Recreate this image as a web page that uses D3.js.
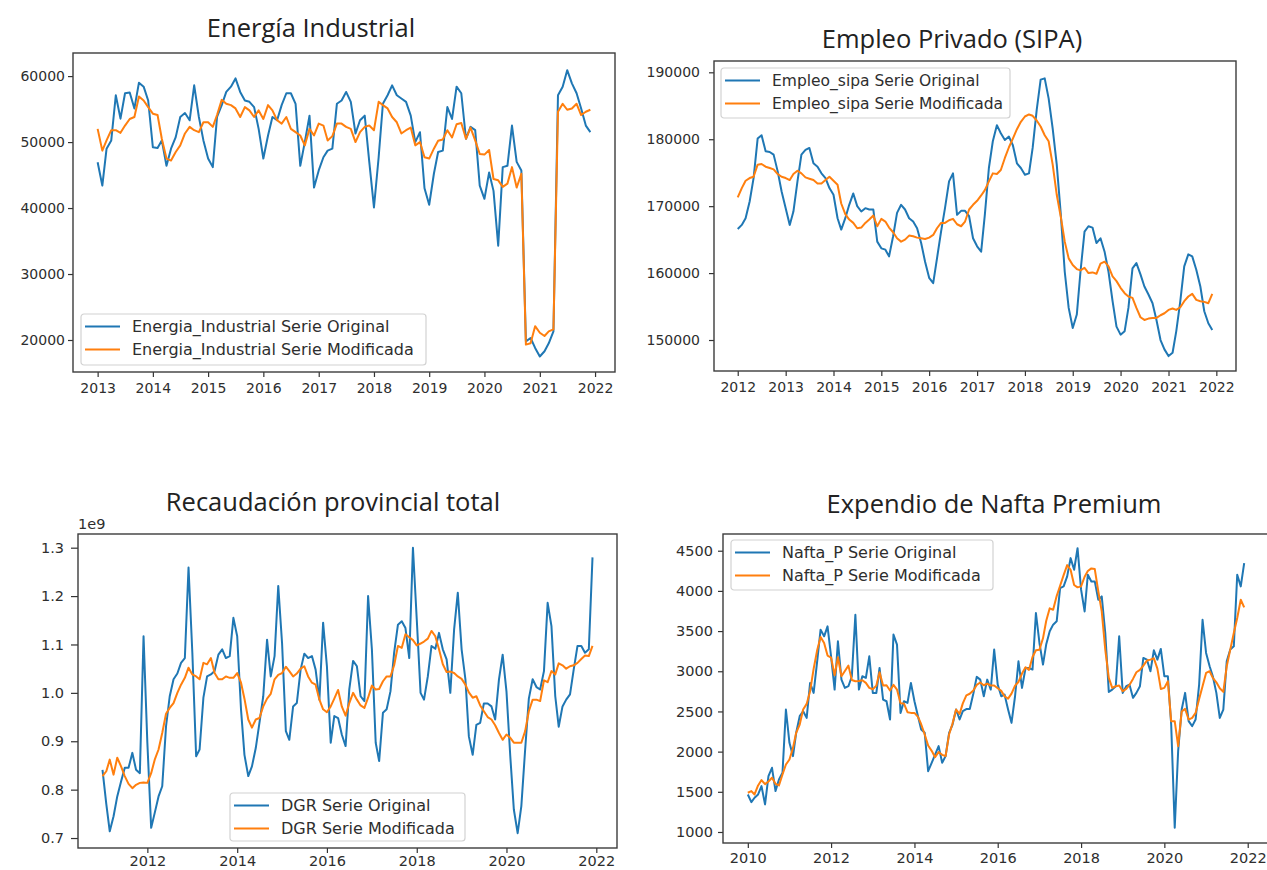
<!DOCTYPE html>
<html>
<head>
<meta charset="utf-8">
<script src="https://cdn.jsdelivr.net/npm/d3@7"></script>
<style>
  body{margin:0;background:#fff}
  svg{display:block}
</style>
</head>
<body>
<svg id="canvas" width="1267" height="870"></svg>
<script>

// ---- data (monthly) ----

// Energia Industrial, 2013-01 .. 2021-12
var energiaOriginal = [
  46950,43400,49000,50250,57100,53550,57400,57500,55100,59000,58400,56300,
  49200,49100,50250,46400,49000,50750,53800,54400,53300,58600,53800,50250,
  47500,46200,53800,55600,57600,58400,59650,57600,56300,56100,55300,52000,
  47500,51000,53800,53300,55600,57400,57400,55800,46400,50000,54000,43100,
  45700,47700,48700,49000,55800,56300,57600,56100,51300,53300,54000,47000,
  40100,47700,55800,57100,58600,57100,56600,56100,54000,50000,51500,43000,
  40500,45200,48500,48700,55300,53500,58400,57400,50500,52300,51800,43400,
  41400,45400,42600,34300,46200,46400,52500,47000,45700,19800,20300,18800,
  17500,18300,19500,21300,57100,58400,60900,58900,57400,55100,52500,51500
]
var energiaModificada = [
  52000,48700,50250,51800,51800,51400,52500,53500,53800,56900,56300,55300,
  54300,54100,50500,47500,47200,48500,49500,51300,52300,51800,51500,53000,
  53000,52300,54100,56400,55800,55600,55100,53800,55300,54800,53800,54800,
  53500,55600,54800,53300,52800,53800,52000,51500,51000,49500,52000,51000,
  52800,52500,50250,50900,52800,52800,52300,52000,50000,51500,52300,52500,
  51800,56100,55600,55100,53800,53000,51300,51800,52200,49500,50000,47700,
  47500,49000,50200,50400,51800,50700,52700,52900,50500,52200,50250,48200,
  48100,48800,44400,44200,43200,43700,46200,43100,45200,19300,19500,22100,
  21100,20600,21300,21600,54600,55800,54900,55100,55800,54100,54600,54900
]

// Empleo SIPA, 2012-01 .. 2021-12
var sipaOriginal = [
  166600,167200,168200,170700,174200,180100,180600,178200,178100,177700,175200,172200,
  169700,167200,169200,173700,177700,178400,178700,176400,175900,174900,174200,172700,
  171700,168200,166500,168200,170200,171900,170000,169200,169700,169500,169500,164700,
  163700,163500,162500,165500,169000,170200,169500,168200,167700,166700,164500,161700,
  159300,158500,162200,166200,169700,173700,174900,168700,169300,169300,168500,165200,
  164000,163200,168700,175700,179700,182100,180900,179900,180400,179100,176400,175700,
  174700,174900,178700,184400,188900,189100,186100,181600,176200,169000,160200,154800,
  151800,153800,160200,166200,167000,166800,164500,165200,163200,160200,155800,152000,
  150800,151300,154800,160700,161500,159800,158000,156800,155500,153000,150000,148600,
  147600,148100,151300,155800,161000,162800,162500,160500,158000,154300,152500,151500
]
var sipaModificada = [
  171300,172700,173800,174200,174400,176200,176300,175900,175700,175500,174800,174400,
  174200,173900,174800,175300,174900,174300,174100,173900,173400,173400,173900,174400,
  173800,173200,170400,168800,168000,167500,166700,166800,167500,168000,168600,167000,
  168100,167700,166800,166100,165200,164700,165000,165600,165500,165300,165200,165100,
  165300,165700,166700,167500,167500,167900,168100,167300,167000,167700,169500,170200,
  170800,171600,172400,173700,174900,174800,175400,177200,178800,180100,181500,182600,
  183400,183700,183500,182800,181900,180600,179700,176200,171700,168500,164700,162200,
  161200,160600,160400,160800,160000,160100,159900,161400,161700,161000,159500,158800,
  157800,157000,156500,156300,154800,153400,153000,153200,153300,153300,153700,154000,
  154500,154700,154500,154900,155800,156500,156900,156000,155800,155700,155500,156900
]

// Recaudacion DGR (x 1e9), 2011-01 .. 2021-12
var dgrOriginal = [
  0.841,0.770,0.714,0.745,0.786,0.817,0.845,0.845,0.876,0.841,0.834,1.117,
  0.897,0.721,0.752,0.786,0.807,0.931,0.993,1.028,1.040,1.062,1.072,1.259,
  1.083,0.869,0.883,0.990,1.034,1.038,1.045,1.079,1.090,1.072,1.076,1.155,
  1.117,0.966,0.872,0.828,0.848,0.886,0.938,0.993,1.110,1.034,1.076,1.221,
  1.103,0.921,0.903,0.972,0.979,1.048,1.081,1.072,1.076,1.048,0.986,1.145,
  1.055,0.897,0.952,0.948,0.914,0.890,1.007,1.066,1.055,0.993,0.983,1.200,
  1.090,0.897,0.859,0.959,0.966,1.003,1.083,1.141,1.148,1.134,1.072,1.300,
  1.152,1.000,0.986,1.034,1.097,1.091,1.124,1.090,1.069,1.000,1.131,1.207,
  1.090,1.028,0.910,0.872,0.934,0.938,0.978,0.978,0.972,0.945,1.028,1.079,
  1.003,0.869,0.759,0.710,0.766,0.883,0.988,1.028,1.012,1.007,1.045,1.186,
  1.138,0.993,0.930,0.972,0.986,0.997,1.048,1.097,1.097,1.083,1.090,1.280
]
var dgrModificada = [
  0.828,0.838,0.862,0.831,0.866,0.848,0.828,0.812,0.803,0.810,0.814,0.815,
  0.814,0.834,0.862,0.883,0.917,0.957,0.969,0.979,1.000,1.017,1.031,1.052,
  1.038,1.034,1.028,1.062,1.059,1.072,1.041,1.028,1.028,1.034,1.031,1.031,
  1.041,1.021,0.988,0.945,0.928,0.945,0.948,0.972,0.988,0.998,1.028,1.037,
  1.041,1.054,1.045,1.034,1.040,1.050,1.055,1.034,1.021,1.017,0.986,0.966,
  0.960,0.972,0.988,1.006,0.972,0.953,0.979,1.000,0.986,0.974,0.969,0.990,
  1.015,1.007,1.008,1.024,1.034,1.034,1.057,1.097,1.093,1.121,1.115,1.109,
  1.098,1.102,1.106,1.112,1.128,1.117,1.090,1.059,1.043,1.044,1.041,1.034,
  1.029,1.017,1.001,0.990,0.993,0.974,0.962,0.950,0.945,0.933,0.917,0.903,
  0.914,0.907,0.897,0.897,0.897,0.921,0.962,0.986,0.986,0.983,1.026,1.022,
  1.045,1.038,1.061,1.057,1.050,1.055,1.057,1.062,1.070,1.077,1.076,1.097
]

// Nafta Premium, 2010-01 .. 2021-12
var naftaOriginal = [
  1467,1372,1426,1467,1571,1343,1695,1799,1509,1654,1737,2524,
  2109,1944,2234,2441,2503,2420,2855,2731,3124,3518,3435,3559,
  3186,2772,3373,2896,2793,2814,2938,3704,2772,2938,2917,3186,
  2731,2731,3041,2648,2627,2399,3456,3331,2482,2627,2607,2855,
  2627,2441,2275,2234,1757,1861,1964,2068,1861,1944,2234,2337,
  2524,2400,2503,2530,2530,2720,2930,2896,2689,2896,2772,3270,
  2834,2689,2710,2524,2358,2689,3124,2793,3041,3041,3021,3725,
  3352,3083,3332,3497,3580,3621,4035,4056,4180,4408,4263,4532,
  4015,3745,4201,4118,4118,3890,3932,3476,2743,2772,2814,3435,
  2731,2814,2834,2669,2731,2814,3166,3145,3000,3261,3145,3278,
  2938,2938,2337,1053,2006,2524,2731,2379,2317,2400,2834,3640,
  3228,3062,2938,2731,2420,2524,3124,3270,3310,4201,4056,4346
]
var naftaModificada = [
  1488,1509,1467,1579,1646,1596,1629,1675,1600,1579,1716,1840,
  1902,2047,2234,2337,2524,2594,2751,3029,3261,3427,3352,3195,
  3170,2950,3174,2938,3004,3070,2892,2876,2880,2888,2855,2793,
  2776,2822,2988,2822,2826,2760,2830,2772,2602,2598,2491,2482,
  2482,2433,2341,2213,2076,2010,1931,1996,1960,1944,2217,2350,
  2524,2470,2600,2700,2720,2760,2830,2860,2826,2847,2822,2822,
  2789,2756,2689,2660,2722,2822,2867,2971,3050,3017,3178,3261,
  3269,3410,3625,3783,3766,3936,4064,4197,4321,4263,4073,4044,
  4056,4176,4247,4280,4272,3994,3746,3269,2917,2793,2814,2822,
  2751,2780,2830,2905,2988,3017,3070,3133,3145,3162,3033,2780,
  2793,2876,2379,2379,2068,2499,2532,2399,2420,2482,2656,2814,
  2979,3000,2917,2863,2789,2743,3062,3269,3476,3663,3890,3795
]

// tick labels
var energiaYears = [2013,2014,2015,2016,2017,2018,2019,2020,2021,2022]
var energiaTicks = [20000,30000,40000,50000,60000]
var sipaYears = [2012,2013,2014,2015,2016,2017,2018,2019,2020,2021,2022]
var sipaTicks = [150000,160000,170000,180000,190000]
var dgrYears = [2012,2014,2016,2018,2020,2022]
var dgrTicks = [0.7,0.8,0.9,1.0,1.1,1.2,1.3]
var naftaYears = [2010,2012,2014,2016,2018,2020,2022]
var naftaTicks = [1000,1500,2000,2500,3000,3500,4000,4500]

var colors = ["#1f77b4", "#ff7f0e"]

var canvas = d3.select("#canvas")
var clipCount = 0

function drawPanel(p){

    var g = canvas.append("g")

    var dates = p.original.map(function(d, i){ return new Date(p.startYear, i, 1) })
    var t0 = dates[0].getTime()
    var t1 = dates[dates.length-1].getTime()
    var pad = (t1 - t0) * 0.05   // matplotlib default margins

    var x = d3.scaleTime()
        .domain([new Date(t0 - pad), new Date(t1 + pad)])
        .range([p.left, p.right])

    var y = d3.scaleLinear()
        .domain(p.yDomain)
        .range([p.bottom, p.top])

    clipCount++
    var clipId = "clip" + clipCount
    g.append("clipPath").attr("id", clipId)
      .append("rect")
        .attr("x", p.left).attr("y", p.top)
        .attr("width", p.right - p.left).attr("height", p.bottom - p.top)

    var line = d3.line()
        .x(function(d, i){ return x(dates[i]) })
        .y(function(d){ return y(d) })

    //series
    var series = [p.original, p.modificada]
    for (var i=0; i<2; i++){
        g.append("path")
          .datum(series[i])
          .attr("d", line)
          .attr("clip-path", "url(#" + clipId + ")")
          .style("fill", "none")
          .style("stroke", colors[i])
          .style("stroke-width", 2)
          .style("stroke-linejoin", "round")
    }

    //axes
    var xAxis = g.append("g")
        .attr("transform", "translate(0," + p.bottom + ")")
        .call(d3.axisBottom(x)
            .tickValues(p.years.map(function(yr){ return new Date(yr, 0, 1) }))
            .tickFormat(d3.timeFormat("%Y"))
            .tickSize(5)
            .tickPadding(p.xPad))
    xAxis.select(".domain").remove()

    var yAxis = g.append("g")
        .attr("transform", "translate(" + p.left + ",0)")
        .call(d3.axisLeft(y)
            .tickValues(p.yTicks)
            .tickFormat(p.yFormat)
            .tickSize(p.yTickSize)
            .tickPadding(p.yPad))
    yAxis.select(".domain").remove()

    g.selectAll(".tick text")
        .style("font-family", "'DejaVu Sans', sans-serif")
        .style("font-size", p.tickFont + "px")
        .style("fill", "#2e2e2e")
    g.selectAll(".tick line")
        .style("stroke", "#333")
        .style("stroke-width", 1.2)

    //frame
    g.append("rect")
        .attr("x", p.left).attr("y", p.top)
        .attr("width", p.right - p.left).attr("height", p.bottom - p.top)
        .style("fill", "none")
        .style("stroke", "#3c3c3c")
        .style("stroke-width", 1.4)

    //title
    g.append("text")
        .attr("x", p.titleX).attr("y", p.titleY)
        .attr("text-anchor", "middle")
        .style("font-family", "'Open Sans', sans-serif")
        .style("font-size", "25.5px")
        .style("fill", "#222")
        .text(p.title)

    if (p.offsetText){
        g.append("text")
            .attr("x", p.left).attr("y", p.top - 5)
            .style("font-family", "'DejaVu Sans', sans-serif")
            .style("font-size", p.tickFont + "px")
            .style("fill", "#2e2e2e")
            .text(p.offsetText)
    }

    //legend
    var L = p.legend
    var lg = g.append("g").attr("transform", "translate(" + L[0] + "," + L[1] + ")")
    lg.append("rect")
        .attr("width", L[2]).attr("height", L[3])
        .attr("rx", 3).attr("ry", 3)
        .style("fill", "#fff").style("fill-opacity", 0.8)
        .style("stroke", "#d2d2d2").style("stroke-width", 1.2)
    var labels = [p.name + " Serie Original", p.name + " Serie Modificada"]
    for (var i=0; i<2; i++){
        var ry = 12.5 + i*23
        lg.append("line")
            .attr("x1", 4).attr("x2", 39)
            .attr("y1", ry).attr("y2", ry)
            .style("stroke", colors[i]).style("stroke-width", 2)
        lg.append("text")
            .attr("x", 51).attr("y", ry)
            .attr("dy", "0.36em")
            .style("font-family", "'DejaVu Sans', sans-serif")
            .style("font-size", p.legendFont + "px")
            .style("fill", "#2e2e2e")
            .text(labels[i])
    }
}

drawPanel({
    title: "Energía Industrial", titleX: 311, titleY: 37,
    name: "Energia_Industrial",
    original: energiaOriginal, modificada: energiaModificada, startYear: 2013,
    left: 73, right: 615, top: 53, bottom: 372,
    yDomain: [15150, 63500], yTicks: energiaTicks, yFormat: d3.format("d"),
    years: energiaYears, yTickSize: 5, yPad: 3, xPad: 6,
    tickFont: 14, legendFont: 16,
    legend: [81, 314, 345, 51]
})

drawPanel({
    title: "Empleo Privado (SIPA)", titleX: 952, titleY: 48,
    name: "Empleo_sipa",
    original: sipaOriginal, modificada: sipaModificada, startYear: 2012,
    left: 714, right: 1236, top: 61, bottom: 371,
    yDomain: [145370, 191690], yTicks: sipaTicks, yFormat: d3.format("d"),
    years: sipaYears, yTickSize: 5, yPad: 9, xPad: 6,
    tickFont: 14, legendFont: 15.5,
    legend: [721, 68, 289, 50]
})

drawPanel({
    title: "Recaudación provincial total", titleX: 333, titleY: 511,
    name: "DGR",
    original: dgrOriginal, modificada: dgrModificada, startYear: 2011,
    left: 78, right: 617, top: 534, bottom: 848,
    yDomain: [0.6794, 1.3283], yTicks: dgrTicks, yFormat: d3.format(".1f"),
    years: dgrYears, yTickSize: 7, yPad: 7, xPad: 3,
    tickFont: 14.5, legendFont: 16,
    offsetText: "1e9",
    legend: [230, 793, 235, 48]
})

drawPanel({
    title: "Expendio de Nafta Premium", titleX: 994, titleY: 513,
    name: "Nafta_P",
    original: naftaOriginal, modificada: naftaModificada, startYear: 2010,
    left: 723, right: 1269, top: 534, bottom: 843,
    yDomain: [863, 4708], yTicks: naftaTicks, yFormat: d3.format("d"),
    years: naftaYears, yTickSize: 5, yPad: 5, xPad: 5,
    tickFont: 14.5, legendFont: 16,
    legend: [731, 540, 262, 50]
})

</script>
</body>
</html>
